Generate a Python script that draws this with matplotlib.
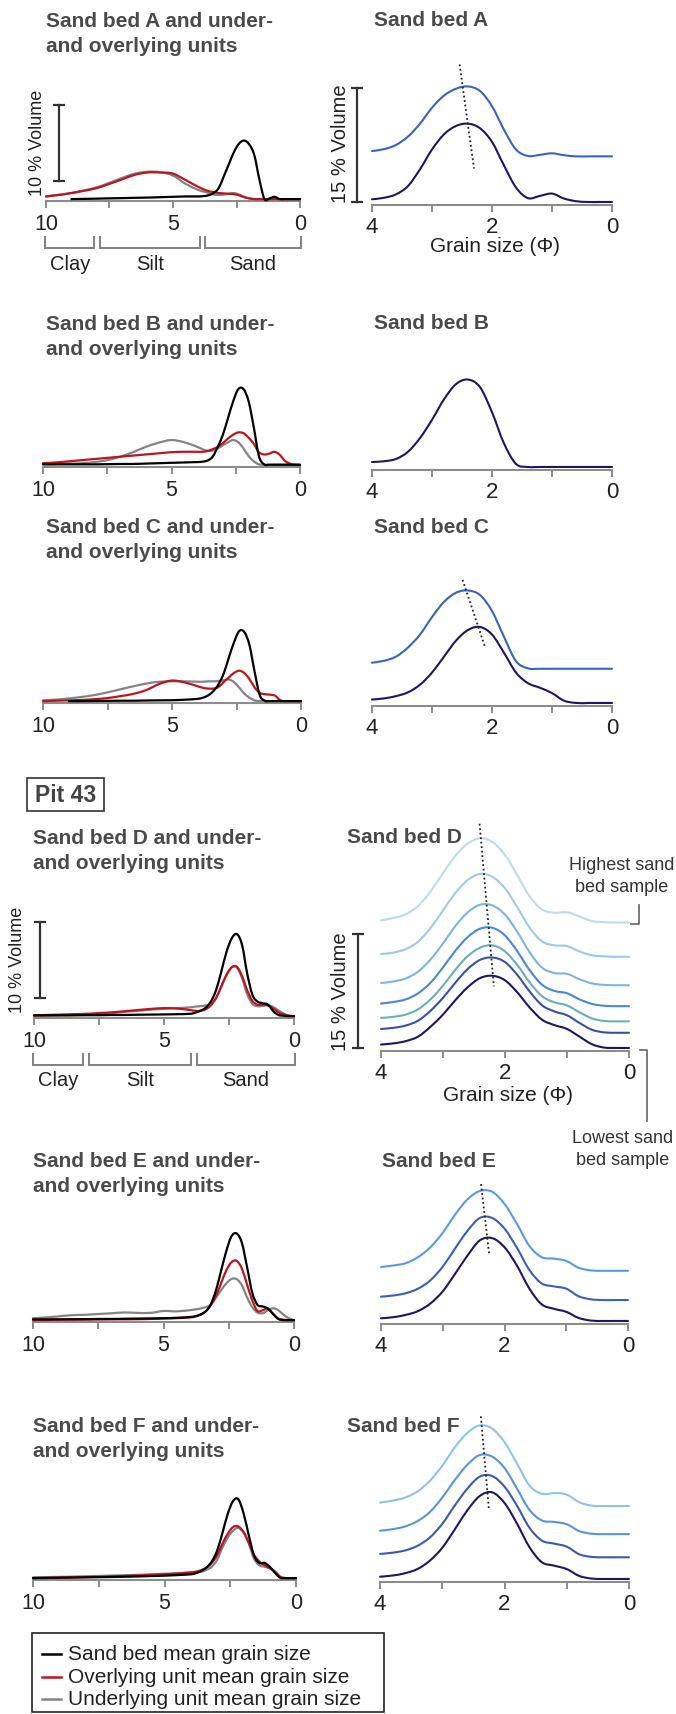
import numpy as np
import matplotlib
matplotlib.use('Agg')
import matplotlib.pyplot as plt
from matplotlib.path import Path
from matplotlib.patches import PathPatch, Rectangle

plt.rcParams['font.family'] = ['Liberation Sans', 'DejaVu Sans']

nan = np.nan
# ---------------- DATA ----------------
PHI_L = [10, 9.5, 9, 8.5, 8, 7.5, 7, 6.5, 6, 5.5, 5, 4.5, 4,
         3.8, 3.6, 3.4, 3.2, 3.0, 2.8, 2.6, 2.4, 2.2, 2.0, 1.8, 1.6, 1.4, 1.2, 1.0, 0.8, 0.6, 0.4, 0.2, 0.0]
PHI_R = [4.0, 3.8, 3.6, 3.4, 3.2, 3.0, 2.8, 2.6, 2.4, 2.2, 2.0, 1.8, 1.6, 1.4, 1.2, 1.0, 0.8, 0.6, 0.4, 0.2, 0.0]

# left panels: sand bed / overlying / underlying  (% volume)
A_sand = [nan, nan, 0.0, 0.03, 0.06, 0.1, 0.13, 0.17, 0.2, 0.25, 0.3, 0.35, 0.35,
          0.4, 0.5, 0.8, 1.45, 3.0, 4.6, 6.2, 7.3, 7.7, 7.2, 5.8, 2.6, 0.0, 0.1, 0.3, 0.0, 0.0, 0.0, 0.0, 0.0]
A_over = [0.35, 0.55, 0.8, 1.1, 1.45, 2.0, 2.6, 3.2, 3.5, 3.5, 3.35, 2.5, 1.6,
          1.3, 1.05, 0.9, 0.8, 0.75, 0.7, 0.65, 0.5, 0.25, 0.1, 0.0, 0.0, 0.0, 0.0, 0.0, 0.0, 0.0, 0.0, 0.0, 0.0]
A_under = [0.35, 0.55, 0.8, 1.15, 1.55, 2.15, 2.8, 3.35, 3.6, 3.55, 3.1, 2.0, 1.2,
           1.0, 0.8, 0.6, 0.55, 0.6, 0.7, 0.8, 0.6, 0.3, 0.1, 0.0, 0.0, 0.0, 0.0, 0.0, 0.0, 0.0, 0.0, 0.0, 0.0]

B_sand = [0.1, 0.1, 0.1, 0.1, 0.1, 0.12, 0.15, 0.15, 0.2, 0.25, 0.3, 0.35, 0.4,
          0.45, 0.6, 1.1, 2.4, 4.0, 6.2, 8.4, 10.0, 10.0, 8.4, 5.0, 1.2, 0.1, 0.05, 0.05, 0.05, 0.05, 0.05, 0.05, 0.05]
B_over = [0.25, 0.35, 0.5, 0.65, 0.8, 0.95, 1.1, 1.25, 1.4, 1.55, 1.7, 1.75, 1.75,
          1.75, 1.85, 2.1, 2.4, 2.9, 3.5, 4.0, 4.3, 4.2, 3.6, 2.8, 1.7, 1.4, 1.5, 1.75, 1.4, 0.6, 0.2, 0.05, 0.0]
B_under = [0.1, 0.15, 0.2, 0.25, 0.4, 0.65, 1.1, 1.7, 2.4, 2.95, 3.3, 3.0, 2.4,
           2.1, 1.9, 1.9, 2.2, 2.6, 3.0, 3.3, 3.0, 2.2, 1.2, 0.5, 0.1, 0.05, 0.05, 0.05, 0.05, 0.05, 0.05, 0.05, 0.05]

C_sand = [nan, nan, 0.0, 0.0, 0.02, 0.03, 0.05, 0.05, 0.08, 0.1, 0.12, 0.18, 0.3,
          0.45, 0.75, 1.3, 2.2, 3.6, 5.7, 7.7, 9.2, 9.1, 7.4, 3.9, 0.8, 0.05, 0.0, 0.0, 0.0, 0.0, 0.0, 0.0, 0.0]
C_over = [0.0, 0.05, 0.1, 0.15, 0.25, 0.4, 0.65, 0.95, 1.45, 2.25, 2.7, 2.45, 1.95,
          1.75, 1.65, 1.65, 1.85, 2.5, 3.1, 3.7, 4.0, 3.7, 2.9, 1.8, 1.1, 0.9, 0.85, 0.7, 0.1, 0.0, 0.0, 0.0, 0.0]
C_under = [0.1, 0.2, 0.35, 0.55, 0.8, 1.15, 1.55, 1.95, 2.3, 2.55, 2.6, 2.6, 2.55,
           2.55, 2.6, 2.6, 2.65, 2.75, 2.85, 2.5, 1.8, 1.0, 0.45, 0.1, 0.0, 0.0, 0.0, 0.0, 0.0, 0.0, 0.0, 0.0, 0.0]

D_sand = [0.1, 0.1, 0.1, 0.1, 0.12, 0.12, 0.15, 0.15, 0.18, 0.2, 0.22, 0.25, 0.3,
          0.45, 0.7, 1.1, 1.9, 3.4, 5.8, 8.4, 10.2, 10.8, 9.4, 5.6, 2.8, 1.9, 1.7, 1.5, 0.65, 0.15, 0.05, 0.0, 0.0]
D_over = [0.1, 0.15, 0.2, 0.25, 0.3, 0.4, 0.5, 0.65, 0.8, 0.95, 1.05, 1.0, 0.8,
          0.7, 0.7, 0.9, 1.4, 2.4, 3.9, 5.4, 6.4, 6.5, 5.3, 3.4, 2.0, 1.5, 1.5, 1.4, 1.0, 0.5, 0.2, 0.05, 0.0]
D_under = [0.0, 0.05, 0.1, 0.15, 0.2, 0.3, 0.4, 0.55, 0.7, 0.85, 0.95, 1.05, 1.15,
           1.25, 1.3, 1.4, 1.6, 2.3, 3.8, 5.4, 6.4, 6.4, 5.0, 2.9, 1.6, 1.3, 1.35, 1.45, 1.2, 0.75, 0.35, 0.05, 0.0]

E_sand = [0.1, 0.1, 0.1, 0.12, 0.12, 0.15, 0.15, 0.18, 0.2, 0.22, 0.25, 0.3, 0.4,
          0.5, 0.7, 1.1, 2.0, 3.8, 6.4, 9.0, 11.0, 11.4, 10.2, 7.0, 3.6, 2.0, 1.8, 1.5, 0.8, 0.15, 0.0, 0.0, 0.0]
E_over = [0.0, 0.02, 0.05, 0.05, 0.07, 0.08, 0.1, 0.1, 0.12, 0.15, 0.2, 0.25, 0.35,
          0.45, 0.7, 1.1, 1.9, 3.1, 4.8, 6.5, 7.6, 7.8, 6.8, 4.7, 2.6, 1.2, 1.3, 1.55, 0.8, 0.2, 0.05, 0.0, 0.0]
E_under = [0.25, 0.35, 0.5, 0.65, 0.7, 0.8, 0.9, 1.0, 0.95, 0.95, 1.2, 1.15, 1.3,
           1.4, 1.5, 1.7, 2.0, 2.9, 3.9, 4.8, 5.4, 5.4, 4.6, 3.0, 1.7, 1.0, 0.9, 1.3, 1.55, 1.3, 0.7, 0.25, 0.0]

F_sand = [0.0, 0.02, 0.05, 0.07, 0.1, 0.12, 0.15, 0.18, 0.22, 0.27, 0.32, 0.4, 0.5,
          0.65, 0.95, 1.4, 2.2, 3.6, 5.9, 8.4, 10.1, 10.4, 8.6, 5.7, 3.0, 2.0, 2.0, 1.5, 0.7, 0.05, 0.0, 0.0, 0.0]
F_over = [0.0, 0.03, 0.06, 0.1, 0.13, 0.17, 0.22, 0.28, 0.35, 0.42, 0.5, 0.6, 0.75,
          0.85, 1.05, 1.4, 2.0, 3.0, 4.5, 5.8, 6.7, 6.8, 6.1, 4.7, 3.1, 2.2, 1.7, 1.3, 0.8, 0.15, 0.0, 0.0, 0.0]
F_under = [0.1, 0.13, 0.16, 0.2, 0.24, 0.28, 0.33, 0.38, 0.43, 0.5, 0.57, 0.65, 0.75,
           0.8, 0.85, 1.1, 1.5, 2.4, 4.0, 5.3, 6.2, 6.6, 6.0, 4.6, 2.6, 1.7, 1.5, 1.3, 0.9, 0.2, 0.0, 0.0, 0.0]

# right panels: individual sand bed samples (lowest first), values and stacking offsets (%)
RA_1 = [0.35, 0.55, 1.0, 2.1, 4.3, 6.9, 8.9, 10.0, 10.3, 9.7, 7.9, 4.8, 1.9, 0.5, 0.8, 1.1, 0.45, 0.1, 0.0, 0.0, 0.0]
RA_2 = [0.7, 0.95, 1.5, 2.6, 4.3, 6.4, 8.0, 8.9, 9.2, 8.6, 6.6, 3.5, 0.9, 0.05, 0.2, 0.4, 0.15, 0.0, 0.0, 0.0, 0.0]
RA_OFF = [0.0, 6.0]

RB_1 = [0.65, 0.75, 1.05, 2.0, 3.8, 6.2, 8.9, 10.9, 11.5, 10.5, 7.2, 3.1, 0.4, 0.0, 0.0, 0.0, 0.0, 0.0, 0.0, 0.0, 0.0]
RB_OFF = [0.0]

RC_1 = [0.45, 0.6, 0.9, 1.4, 2.4, 4.0, 6.1, 8.2, 9.6, 10.0, 9.0, 6.6, 4.0, 2.6, 2.0, 1.3, 0.3, 0.0, 0.0, 0.0, 0.0]
RC_2 = [0.8, 1.05, 1.6, 2.8, 4.5, 6.8, 8.8, 10.0, 10.3, 9.7, 7.6, 4.2, 1.0, 0.05, 0.0, 0.0, 0.0, 0.0, 0.0, 0.0, 0.0]
RC_OFF = [0.0, 4.5]

RD_1 = [0.45, 0.6, 0.9, 1.5, 2.8, 4.4, 6.3, 8.0, 9.2, 9.5, 8.9, 7.3, 5.3, 3.7, 3.0, 2.5, 1.5, 0.5, 0.05, 0.0, 0.0]
RD_2 = [0.5, 0.65, 0.95, 1.6, 2.9, 4.6, 6.6, 8.4, 9.6, 9.9, 9.3, 7.6, 5.4, 3.6, 2.8, 2.3, 1.3, 0.4, 0.05, 0.0, 0.0]
RD_3 = [0.45, 0.6, 0.9, 1.6, 2.9, 4.7, 6.8, 8.6, 9.7, 10.0, 9.2, 7.4, 5.1, 3.3, 2.5, 2.1, 1.2, 0.4, 0.05, 0.0, 0.0]
RD_4 = [0.35, 0.55, 0.9, 1.7, 3.1, 5.1, 7.3, 9.1, 10.2, 10.3, 9.3, 7.2, 4.7, 2.8, 2.0, 1.7, 0.9, 0.3, 0.05, 0.0, 0.0]
RD_5 = [0.3, 0.5, 0.9, 1.8, 3.4, 5.5, 7.8, 9.6, 10.6, 10.5, 9.3, 7.0, 4.3, 2.3, 1.6, 1.5, 0.8, 0.25, 0.05, 0.0, 0.0]
RD_6 = [0.35, 0.55, 1.0, 2.0, 3.8, 6.1, 8.4, 10.1, 10.9, 10.5, 9.0, 6.5, 3.8, 2.0, 1.5, 1.4, 0.7, 0.2, 0.05, 0.0, 0.0]
RD_7 = [0.3, 0.6, 1.1, 2.2, 4.1, 6.5, 8.8, 10.4, 11.1, 10.6, 8.9, 6.2, 3.4, 1.7, 1.3, 1.35, 0.8, 0.2, 0.05, 0.0, 0.0]
RD_OFF = [0.0, 2.0, 3.5, 5.5, 8.25, 12.0, 16.5]

RE_1 = [0.35, 0.5, 0.8, 1.3, 2.3, 3.9, 6.2, 8.6, 10.6, 10.9, 9.7, 7.3, 4.3, 2.2, 1.6, 1.2, 0.4, 0.05, 0.0, 0.0, 0.0]
RE_2 = [0.45, 0.6, 0.9, 1.5, 2.6, 4.4, 6.8, 9.1, 10.8, 10.8, 9.4, 6.9, 4.0, 2.2, 1.8, 1.5, 0.5, 0.1, 0.0, 0.0, 0.0]
RE_3 = [0.5, 0.7, 1.0, 1.8, 3.1, 5.0, 7.4, 9.4, 10.5, 10.4, 8.8, 6.2, 3.3, 1.8, 1.6, 1.3, 0.4, 0.05, 0.0, 0.0, 0.0]
RE_OFF = [0.0, 2.75, 6.6]

RF_1 = [0.3, 0.45, 0.75, 1.3, 2.4, 4.1, 6.5, 9.0, 10.9, 11.4, 10.0, 7.3, 4.2, 2.2, 1.75, 1.3, 0.4, 0.05, 0.0, 0.0, 0.0]
RF_2 = [0.45, 0.6, 0.9, 1.5, 2.6, 4.4, 6.8, 9.0, 10.6, 10.7, 9.3, 6.8, 3.9, 2.2, 1.8, 1.4, 0.4, 0.05, 0.0, 0.0, 0.0]
RF_3 = [0.45, 0.65, 1.0, 1.7, 2.9, 4.8, 7.1, 9.1, 10.4, 10.2, 8.7, 6.0, 3.2, 1.8, 1.6, 1.3, 0.4, 0.05, 0.0, 0.0, 0.0]
RF_4 = [0.45, 0.7, 1.1, 1.9, 3.3, 5.3, 7.7, 9.6, 10.6, 10.2, 8.4, 5.6, 2.7, 1.6, 1.7, 1.5, 0.5, 0.05, 0.0, 0.0, 0.0]
RF_OFF = [0.0, 2.85, 5.9, 9.6]

# dotted mode-trend lines: (phi_top, %_top, phi_bottom, %_bottom)
TREND = {'A': (2.54, 18.1, 2.30, 4.4), 'C': (2.49, 16.2, 2.11, 7.2),
         'D': (2.41, 29.5, 2.18, 8.1), 'E': (2.38, 18.0, 2.25, 8.9),
         'F': (2.38, 21.4, 2.25, 9.1)}

LEFT_TICKS = [10, 7.5, 5, 2.5, 0]
LEFT_LABELS = ['10', '', '5', '', '0']
RIGHT_TICKS = [4, 3, 2, 1, 0]
RIGHT_LABELS = ['4', '', '2', '', '0']
CLASSES = ['Clay', 'Silt', 'Sand']
LEGEND_LABELS = ['Sand bed mean grain size', 'Overlying unit mean grain size',
                 'Underlying unit mean grain size']

# ---------------- STYLE ----------------
W, H = 676, 1715
PX = 7.6  # pixels per % volume
C_SAND, C_OVER, C_UNDER = '#000000', '#bb1620', '#848484'
AXC = '#8c8c8c'
TXT = '#222222'
TTL = '#4a4a4a'
NAVY = '#1d1566'

fig = plt.figure(figsize=(W / 100, H / 100), dpi=100)
ov = fig.add_axes([0, 0, 1, 1])
ov.set_xlim(0, W)
ov.set_ylim(H, 0)
ov.axis('off')


def smooth_patch(ax, xs, ys, color, lw=1.5, z=2):
    xs = np.asarray(xs, float)
    ys = np.asarray(ys, float)
    m = np.isfinite(ys)
    P = np.column_stack([xs[m], ys[m]])
    n = len(P)
    verts = [P[0]]
    codes = [Path.MOVETO]
    for i in range(n - 1):
        p0 = P[i - 1] if i > 0 else P[i]
        p1, p2 = P[i], P[i + 1]
        p3 = P[i + 2] if i + 2 < n else P[i + 1]
        verts += [p1 + (p2 - p0) / 6.0, p2 - (p3 - p1) / 6.0, p2]
        codes += [Path.CURVE4] * 3
    ax.add_patch(PathPatch(Path(verts, codes), fill=False, edgecolor=color, lw=lw,
                           zorder=z, clip_on=False, capstyle='round', joinstyle='round'))


def make_ax(x0, x1, yspine, xlo, xhi, ybot, ticks, labels, lsize, pad, height=160):
    ax = fig.add_axes([x0 / W, 1 - yspine / H, (x1 - x0) / W, height / H])
    ax.patch.set_alpha(0)
    for s in ['left', 'right', 'top']:
        ax.spines[s].set_visible(False)
    ax.spines['bottom'].set_color(AXC)
    ax.spines['bottom'].set_linewidth(1.5)
    ax.set_yticks([])
    ax.set_xticks(ticks)
    ax.set_xticklabels(labels)
    ax.tick_params(axis='x', direction='out', length=5, width=1.4, color=AXC,
                   labelcolor=TXT, labelsize=lsize, pad=pad)
    ax.set_xlim(xlo, xhi)
    ax.set_ylim(ybot, ybot + height / PX)
    return ax


def scale_bar(ax, x, y0, length):
    ax.plot([x, x], [y0, y0 + length], color='#333333', lw=1.6, marker='_', ms=9,
            mew=1.6, clip_on=False, zorder=4)


LEFT_POS = {'A': (46, 300, 202), 'B': (43, 300, 468), 'C': (43, 301, 704),
            'D': (34, 294, 1019), 'E': (33, 294, 1323), 'F': (33, 296, 1581)}
RIGHT_POS = {'A': (372, 612, 206), 'B': (372, 612, 471), 'C': (372, 612, 707),
             'D': (381, 629, 1052), 'E': (381, 628, 1325), 'F': (380, 629, 1583)}
LEFT_TITLE = {'A': (46, 27), 'B': (46, 330), 'C': (46, 533),
              'D': (33, 844), 'E': (33, 1167), 'F': (33, 1432)}
RIGHT_TITLE = {'A': (374, 26), 'B': (374, 329), 'C': (374, 533),
               'D': (347, 843), 'E': (382, 1167), 'F': (347, 1432)}

LEFT_DATA = {'A': (A_sand, A_over, A_under), 'B': (B_sand, B_over, B_under),
             'C': (C_sand, C_over, C_under), 'D': (D_sand, D_over, D_under),
             'E': (E_sand, E_over, E_under), 'F': (F_sand, F_over, F_under)}
RIGHT_DATA = {'A': ([RA_1, RA_2], RA_OFF), 'B': ([RB_1], RB_OFF), 'C': ([RC_1, RC_2], RC_OFF),
              'D': ([RD_1, RD_2, RD_3, RD_4, RD_5, RD_6, RD_7], RD_OFF),
              'E': ([RE_1, RE_2, RE_3], RE_OFF), 'F': ([RF_1, RF_2, RF_3, RF_4], RF_OFF)}
RIGHT_COLORS = {'A': [NAVY, '#3a63bf'], 'B': [NAVY], 'C': [NAVY, '#3a63bf'],
                'D': [NAVY, '#3552a8', '#6aaeb9', '#4a87d6', '#7eb4df', '#9fc9e8', '#badbf0'],
                'E': [NAVY, '#3a5fb5', '#5b9ae0'],
                'F': [NAVY, '#3a5ab2', '#5a94db', '#8ec3e8']}

LB = -0.25   # left y-limit bottom (%)
RB = -0.4    # right y-limit bottom (%)

for key in 'ABCDEF':
    x0, x1, ys = LEFT_POS[key]
    ax = make_ax(x0, x1, ys, 10, 0, LB, LEFT_TICKS, LEFT_LABELS, 15.5, 3.5)
    sand, over, under = LEFT_DATA[key]
    smooth_patch(ax, PHI_L, under, C_UNDER, 1.6, 2)
    smooth_patch(ax, PHI_L, over, C_OVER, 1.6, 3)
    smooth_patch(ax, PHI_L, sand, C_SAND, 1.6, 4)
    if key in ('A', 'D'):
        scale_bar(ax, 9.5 if key == 'A' else 9.77, 2.4, 10)
        brackets = [(10.03, 8.1), (7.88, 3.95), (3.75, -0.05)]
        yt = LB - 36 / PX
        yb = LB - 47 / PX
        for (a, b), name in zip(brackets, CLASSES):
            ax.plot([a, a, b, b], [yt, yb, yb, yt], color='#808080', lw=1.4,
                    clip_on=False, solid_joinstyle='miter')
            ax.text((a + b) / 2, LB - 62 / PX, name, ha='center', va='center',
                    fontsize=14.5, color=TXT)
    tx, ty = LEFT_TITLE[key]
    ov.text(tx, ty, f'Sand bed {key} and under-', fontsize=15, fontweight='bold',
            color=TTL, ha='left', va='baseline')
    ov.text(tx, ty + 25, 'and overlying units', fontsize=15, fontweight='bold',
            color=TTL, ha='left', va='baseline')

for key in 'ABCDEF':
    x0, x1, ys = RIGHT_POS[key]
    ax = make_ax(x0, x1, ys, 4, 0, RB, RIGHT_TICKS, RIGHT_LABELS, 16, 3,
                 height=260 if key == 'D' else 180)
    curves, offs = RIGHT_DATA[key]
    for i, (vals, off, col) in enumerate(zip(curves, offs, RIGHT_COLORS[key])):
        smooth_patch(ax, PHI_R, np.asarray(vals) + off, col, 1.5, 2 + i)
    if key in TREND:
        p0, v0, p1, v1 = TREND[key]
        ax.plot([p0, p1], [v0, v1], color='#222222', lw=1.3, ls=(0, (1, 1.5)),
                clip_on=False, zorder=20)
    if key in ('A', 'D'):
        scale_bar(ax, 4.25 if key == 'A' else 4.37, 0.0, 15)
    tx, ty = RIGHT_TITLE[key]
    ov.text(tx, ty, f'Sand bed {key}', fontsize=15, fontweight='bold',
            color=TTL, ha='left', va='baseline')

# axis annotations
ov.text(38, 143, '10 % Volume', rotation=90, ha='center', va='center', fontsize=13, color=TXT)
ov.text(18, 960, '10 % Volume', rotation=90, ha='center', va='center', fontsize=13, color=TXT)
ov.text(340, 144, '15 % Volume', rotation=90, ha='center', va='center', fontsize=14.5, color=TXT)
ov.text(340, 992, '15 % Volume', rotation=90, ha='center', va='center', fontsize=14.5, color=TXT)
ov.text(495, 246, 'Grain size (Φ)', ha='center', va='center', fontsize=15, color=TXT)
ov.text(508, 1096, 'Grain size (Φ)', ha='center', va='center', fontsize=15, color=TXT)

# Pit 43 label
ov.add_patch(Rectangle((27, 779), 77, 33, fill=False, edgecolor='#333333', lw=1.2))
ov.text(65.5, 796, 'Pit 43', ha='center', va='center', fontsize=16.5, fontweight='bold', color='#444444')

# highest / lowest sample notes
ov.text(622, 866, 'Highest sand', ha='center', va='center', fontsize=13, color='#333333')
ov.text(622, 888, 'bed sample', ha='center', va='center', fontsize=13, color='#333333')
ov.plot([631, 639, 639], [925, 925, 906], color='#707070', lw=1.3)
ov.text(623, 1139, 'Lowest sand', ha='center', va='center', fontsize=13, color='#333333')
ov.text(623, 1161, 'bed sample', ha='center', va='center', fontsize=13, color='#333333')
ov.plot([640, 647, 647], [1051, 1051, 1122], color='#707070', lw=1.3)

# legend
ov.add_patch(Rectangle((32, 1634), 352, 79, fill=False, edgecolor='#222222', lw=1.2))
for i, (lab, col) in enumerate(zip(LEGEND_LABELS, [C_SAND, C_OVER, C_UNDER])):
    yy = 1655 + i * 22.5
    ov.plot([42, 61], [yy, yy], color=col, lw=1.8)
    ov.text(68, yy, lab, ha='left', va='center', fontsize=15, color=TXT)

fig.savefig('out.png', dpi=100)
